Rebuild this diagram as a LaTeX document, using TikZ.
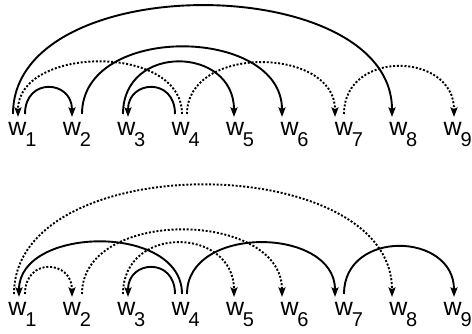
\documentclass[tikz,border=0pt]{standalone}
\usepackage{fontspec}
\setmainfont{Liberation Sans}
\usetikzlibrary{arrows.meta}
\newcommand\wlab[1]{\fontsize{25}{25}\selectfont w\kern-1.2pt\raisebox{-11pt}{\fontsize{20}{20}\selectfont #1}}
\tikzset{
  word/.style={inner sep=0pt, anchor=base west},
  arcbase/.style={line width=1.9pt, line cap=butt},
  solidarc/.style={arcbase},
  dotarc/.style={arcbase, dash pattern=on 2pt off 1.8pt},
  tip/.style={-{Stealth[length=9.5pt,width=7pt,inset=1.5pt]}}
}
\begin{document}
\begin{tikzpicture}[x=1pt,y=-1pt]
\useasboundingbox (0,0) rectangle (472,334);
% ---------- top row ----------
\foreach \i in {1,...,9} {
  \node[word] (w\i) at ({8.3+54.4*(\i-1)},135.5) {\wlab{\i}};
}
\coordinate (t1a) at (13,114);  \coordinate (t1b) at (18,117);  \coordinate (t1c) at (25,114);
\coordinate (t2a) at (72,117);  \coordinate (t2b) at (82,114);
\coordinate (t3a) at (123,114); \coordinate (t3b) at (128,117);
\coordinate (t4a) at (175,114); \coordinate (t4b) at (182,114); \coordinate (t4c) at (187,114);
\coordinate (t5a) at (234,117);
\coordinate (t6a) at (282,117);
\coordinate (t7a) at (335,117); \coordinate (t7b) at (344,114);
\coordinate (t8a) at (392,117);
\coordinate (t9a) at (454,117);

\draw[solidarc,tip] (t1a) .. controls +(0,-146) and +(0,-146) .. (t8a);
\draw[dotarc,tip]   (t4b) .. controls +(0,-71) and +(0,-71) .. (t1b);
\draw[solidarc,tip] (t1c) .. controls +(0,-37) and +(0,-37) .. (t2a);
\draw[solidarc,tip] (t2b) .. controls +(0,-91) and +(0,-91) .. (t6a);
\draw[solidarc,tip] (t4a) .. controls +(0,-37) and +(0,-37) .. (t3b);
\draw[solidarc,tip] (t3a) .. controls +(0,-71) and +(0,-71) .. (t5a);
\draw[dotarc,tip]   (t4c) .. controls +(0,-70) and +(0,-70) .. (t7a);
\draw[dotarc,tip]   (t7b) .. controls +(0,-65) and +(0,-65) .. (t9a);

% ---------- bottom row ----------
\foreach \i in {1,...,9} {
  \node[word] (v\i) at ({8.3+54.4*(\i-1)},316) {\wlab{\i}};
}
\coordinate (b1a) at (14,294);  \coordinate (b1b) at (19,297);  \coordinate (b1c) at (25,294);
\coordinate (b2a) at (72,297);  \coordinate (b2b) at (82,294);
\coordinate (b3a) at (123,294); \coordinate (b3b) at (128,297);
\coordinate (b4a) at (175,294); \coordinate (b4b) at (182,294); \coordinate (b4c) at (187,294);
\coordinate (b5a) at (234,297);
\coordinate (b6a) at (282,297);
\coordinate (b7a) at (335,297); \coordinate (b7b) at (344,294);
\coordinate (b8a) at (392,297);
\coordinate (b9a) at (454,297);

\draw[dotarc,tip]   (b1a) .. controls +(0,-147) and +(0,-147) .. (b8a);
\draw[solidarc,tip] (b4b) .. controls +(0,-71) and +(0,-71) .. (b1b);
\draw[dotarc,tip]   (b1c) .. controls +(0,-37) and +(0,-37) .. (b2a);
\draw[dotarc,tip]   (b2b) .. controls +(0,-87) and +(0,-87) .. (b6a);
\draw[solidarc,tip] (b4a) .. controls +(0,-37) and +(0,-37) .. (b3b);
\draw[dotarc,tip]   (b3a) .. controls +(0,-70) and +(0,-70) .. (b5a);
\draw[solidarc,tip] (b4c) .. controls +(0,-70) and +(0,-70) .. (b7a);
\draw[solidarc,tip] (b7b) .. controls +(0,-65) and +(0,-65) .. (b9a);
\end{tikzpicture}
\end{document}
